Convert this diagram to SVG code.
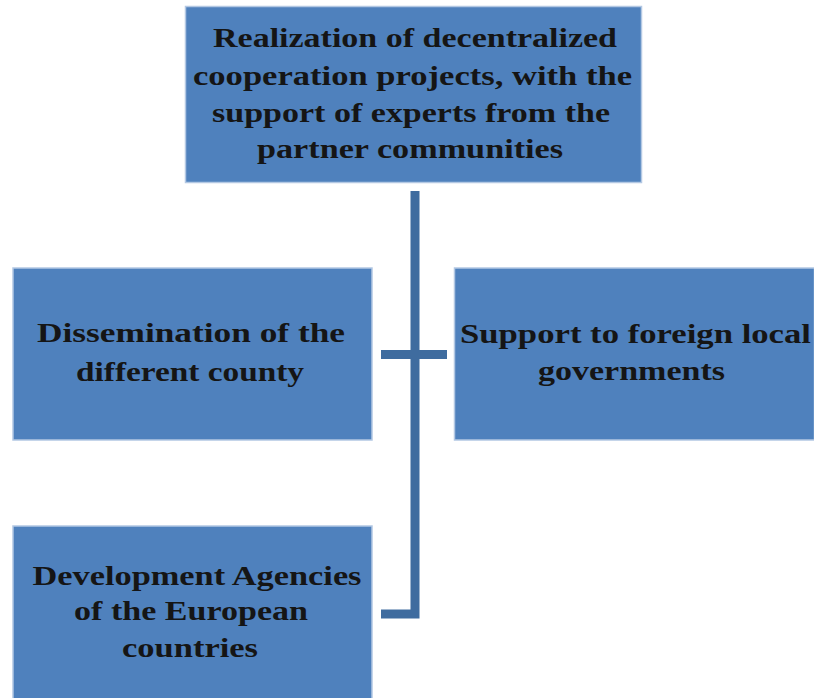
<svg xmlns="http://www.w3.org/2000/svg" width="814" height="698" viewBox="0 0 814 698">
  <style>
    .box { fill: #4f81bd; stroke: #b3c8e3; stroke-width: 1.5; }
    .lbl { font-family: "Liberation Serif", "Times New Roman", serif; font-weight: bold; font-size: 28px; fill: #151515; text-anchor: middle; }
    .wire { fill: none; stroke: #3f6c9f; stroke-width: 9; stroke-linecap: butt; stroke-linejoin: miter; }
  </style>
  <rect width="814" height="698" fill="#ffffff"/>

  <!-- connectors: spine from the top box, cross branch, bottom elbow -->
  <g id="connectors">
    <path class="wire" d="M415 191 V614 H381"/>
    <path class="wire" d="M381 354.5 H447"/>
  </g>

  <g id="node-top">
    <rect class="box" x="185.5" y="6.5" width="456" height="176"/>
    <text class="lbl" x="415" y="47" textLength="404" lengthAdjust="spacingAndGlyphs">Realization of decentralized</text>
    <text class="lbl" x="412.5" y="85" textLength="439" lengthAdjust="spacingAndGlyphs">cooperation projects,  with the</text>
    <text class="lbl" x="411" y="122" textLength="398" lengthAdjust="spacingAndGlyphs">support of experts from the</text>
    <text class="lbl" x="410" y="158" textLength="306" lengthAdjust="spacingAndGlyphs">partner communities</text>
  </g>

  <g id="node-dissemination">
    <rect class="box" x="13" y="268" width="359" height="172"/>
    <text class="lbl" x="191" y="342" textLength="308" lengthAdjust="spacingAndGlyphs">Dissemination  of the</text>
    <text class="lbl" x="190" y="381" textLength="228" lengthAdjust="spacingAndGlyphs">different county</text>
  </g>

  <g id="node-support">
    <rect class="box" x="454.5" y="268" width="360" height="172"/>
    <text class="lbl" x="635.5" y="343" textLength="351" lengthAdjust="spacingAndGlyphs">Support to  foreign local</text>
    <text class="lbl" x="631.5" y="380" textLength="187" lengthAdjust="spacingAndGlyphs">governments</text>
  </g>

  <g id="node-agencies">
    <rect class="box" x="13" y="526" width="359" height="173"/>
    <text class="lbl" x="197" y="585" textLength="329" lengthAdjust="spacingAndGlyphs">Development  Agencies</text>
    <text class="lbl" x="191" y="620" textLength="234" lengthAdjust="spacingAndGlyphs">of the European</text>
    <text class="lbl" x="190" y="657" textLength="136" lengthAdjust="spacingAndGlyphs">countries</text>
  </g>
</svg>
